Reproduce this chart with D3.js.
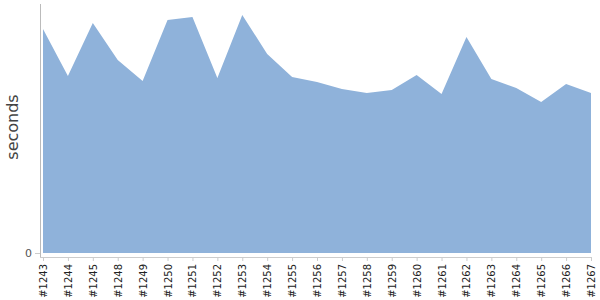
<!DOCTYPE html>
<html>
<head>
<meta charset="utf-8">
<script src="https://cdn.jsdelivr.net/npm/d3@7"></script>
<style>
  body { margin: 0; background: #fff; }
  svg { font-family: 'DejaVu Sans', sans-serif; }
</style>
</head>
<body>
<svg id="chart" width="600" height="300"></svg>
<script>
'use strict';

const builds = ['#1243', '#1244', '#1245', '#1248', '#1249', '#1250', '#1251', '#1252',
  '#1253', '#1254', '#1255', '#1256', '#1257', '#1258', '#1259', '#1260', '#1261',
  '#1262', '#1263', '#1264', '#1265', '#1266', '#1267'];
const durations = [224, 177, 230, 193, 172, 233, 236, 175, 238, 199, 176, 171, 164,
  160, 163, 178, 159, 216, 174, 165, 151, 169, 160];
const yTicks = [0];

const svg = d3.select('#chart');
const margin = { top: 3, right: 9, bottom: 47, left: 43 },
  width = 600, height = 300;

const x = d3.scalePoint().domain(builds).range([margin.left, width - margin.right]);
const y = d3.scaleLinear().domain([0, 250]).range([height - margin.bottom, margin.top]);

// area
const area = d3.area()
  .x((d, i) => x(builds[i]))
  .y0(y(0))
  .y1((d) => y(d));

svg.append('path')
  .datum(durations)
  .attr('fill', '#8fb2da')
  .attr('d', area);

// X-Axis
svg.append('g')
  .attr('transform', `translate(0,${y(0) + 4})`)
  .call(d3.axisBottom(x).tickSizeInner(4).tickSizeOuter(0))
  .attr('font-family', "'DejaVu Sans', sans-serif")
  .call((g) => g.select('.domain').attr('stroke', '#ccc').attr('d', `M${margin.left - 3},0.5H${x(builds[builds.length - 1])}`))
  .call((g) => g.selectAll('.tick line').attr('stroke', '#ccc'))
  .call((g) => g.selectAll('.tick text')
    .attr('fill', '#222')
    .attr('font-size', 10)
    .attr('text-anchor', 'end')
    .attr('transform', 'rotate(-90)')
    .attr('x', -7)
    .attr('y', 0)
    .attr('dy', '0.35em'));

// Y-Axis
svg.append('g')
  .attr('transform', `translate(${margin.left - 3},0)`)
  .call(d3.axisLeft(y).tickValues(yTicks).tickSizeInner(5).tickSizeOuter(0))
  .attr('font-family', "'DejaVu Sans', sans-serif")
  .call((g) => g.select('.domain').attr('stroke', '#bbb').attr('d', `M0.5,${margin.top + 1}V${y(0) + 4}`))
  .call((g) => g.selectAll('.tick line').attr('stroke', '#ccc'))
  .call((g) => g.selectAll('.tick text').attr('fill', '#555').attr('font-size', 11));

svg.append('text')
  .attr('transform', `translate(18,127) rotate(-90)`)
  .attr('text-anchor', 'middle')
  .attr('fill', '#444')
  .attr('font-size', 16)
  .text('seconds');
</script>
</body>
</html>
